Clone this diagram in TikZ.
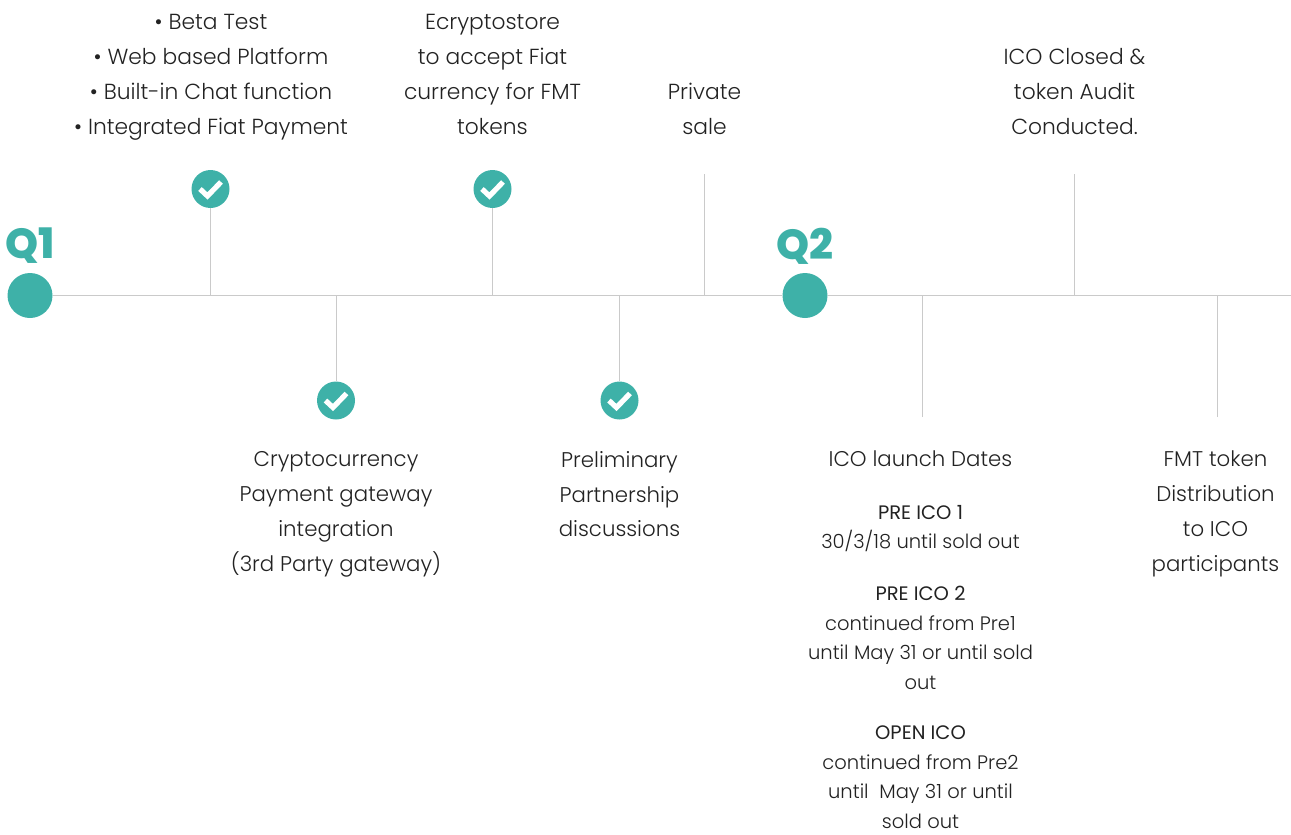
\documentclass[tikz,border=0pt]{standalone}
\usepackage{fontspec}
\setmainfont{Poppins}[UprightFont=* Light,BoldFont=* ExtraBold]
\newfontfamily\medfont{Poppins}
\definecolor{teal1}{HTML}{3EB1A8}
\definecolor{rule1}{HTML}{CACACA}
\definecolor{ink}{HTML}{222222}
\tikzset{
  x=1pt,y=-1pt,
  axis/.style={draw=rule1,line width=1pt},
  big/.style={circle,fill=teal1,minimum size=45pt,inner sep=0pt},
  tick/.style={circle,fill=teal1,minimum size=38pt,inner sep=0pt,
    path picture={\draw[white,line width=5.2pt,miter limit=10]
      ([shift={(-10.5,0)}]path picture bounding box.center) --
      ([shift={(-3,7)}]path picture bounding box.center) --
      ([shift={(10.5,-7)}]path picture bounding box.center);}},
  quarter/.style={text=teal1,font=\fontsize{42}{42}\selectfont\bfseries,inner sep=0pt},
  large/.style={text=ink,align=center,inner sep=0pt,anchor=north,font=\fontsize{21.8}{34.9}\selectfont},
  lower/.style={text=ink,align=center,inner sep=0pt,anchor=north,font=\fontsize{21.3}{34.8}\selectfont},
  small/.style={text=ink,align=center,inner sep=0pt,anchor=north,font=\fontsize{19.5}{29.5}\selectfont},
}
\newcommand{\hd}[1]{{\medfont #1}}
\begin{document}
\begin{tikzpicture}
\useasboundingbox (0,0) rectangle (1291,835);
\node[big] (q1) at (30,295.5) {};
\node[big] (q2) at (805,295.5) {};
\coordinate (end) at (1291,295.5);
\node[quarter] (q1t) at (30,246) {Q1};
\node[quarter] (q2t) at (805,246) {Q2};
\node[tick] (c1) at (210.5,189) {};
\node[tick] (c2) at (336,400.5) {};
\node[tick] (c3) at (492.5,189) {};
\node[tick] (c4) at (619.5,400.5) {};
\coordinate (a1) at (210.5,295.5);
\coordinate (a2) at (336,295.5);
\coordinate (a3) at (492.5,295.5);
\coordinate (a4) at (619.5,295.5);
\coordinate (a5) at (704,295.5);
\coordinate (a6) at (922.5,295.5);
\coordinate (a7) at (1074.5,295.5);
\coordinate (a8) at (1217.5,295.5);
\coordinate (e5) at (704,174);
\coordinate (e6) at (922.5,417);
\coordinate (e7) at (1074.5,174);
\coordinate (e8) at (1217.5,417);
\draw[axis] (q1) -- (q2);
\draw[axis] (q2) -- (end);
\draw[axis] (c1) -- (a1);
\draw[axis] (c2) -- (a2);
\draw[axis] (c3) -- (a3);
\draw[axis] (c4) -- (a4);
\draw[axis] (e5) -- (a5);
\draw[axis] (e6) -- (a6);
\draw[axis] (e7) -- (a7);
\draw[axis] (e8) -- (a8);
\node[large] (t1) at (211,14) {• Beta Test\\ • Web based Platform\\ • Built-in Chat function\\ • Integrated Fiat Payment};
\node[large] (t3) at (492.5,14) {Ecryptostore\\ to accept Fiat\\ currency for FMT\\ tokens};
\node[large] (t5) at (704.5,83) {Private\\ sale};
\node[large] (t7) at (1074.5,48) {ICO Closed \&\\ token Audit\\ Conducted.};
\node[lower] (t2) at (336,451.5) {Cryptocurrency\\ Payment gateway\\ integration\\ (3rd Party gateway)};
\node[lower] (t4) at (619.5,451) {Preliminary\\ Partnership\\ discussions};
\node[lower] (t6) at (920.5,451) {ICO launch Dates};
\node[lower] (t8) at (1215.5,451) {FMT token\\ Distribution\\ to ICO\\ participants};
\node[small] (s1) at (920.5,505) {\hd{PRE ICO 1}\\ 30/3/18 until sold out};
\node[small] (s2) at (920.5,586) {\hd{PRE ICO 2}\\ continued from Pre1\\ until May 31 or until sold\\ out};
\node[small] (s3) at (920.5,726) {\hd{OPEN ICO}\\ continued from Pre2\\ until\ \ May 31 or until\\ sold out};
\end{tikzpicture}
\end{document}
